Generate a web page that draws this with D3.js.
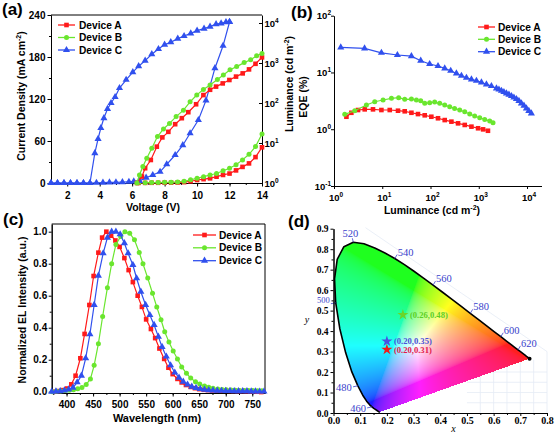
<!DOCTYPE html>
<html><head><meta charset="utf-8">
<script src="https://cdn.jsdelivr.net/npm/d3@7"></script>
<style>
body{margin:0;background:#fff}
#svg{display:block}
</style></head>
<body><svg id="svg" width="555" height="433"></svg>
<script>
// ================= DATA =================
const devices = ["Device A","Device B","Device C"];
// (a) J-V-L
const aVoltJ_A = [6.4,6.8,7.2,7.6,8.0,8.4,8.8,9.2,9.6,10.0,10.4,10.8,11.2,11.6,12.0,12.4,12.8,13.2,13.6,14.0];
const aCurJ_A  = [0.2,0.2,0.3,0.3,0.4,0.5,0.7,1.2,2.5,4.3,5.5,6.7,9,11.5,13.5,18,23,28,37,51];
const aVoltJ_B = [6.4,6.8,7.2,7.6,8.0,8.4,8.8,9.2,9.6,10.0,10.4,10.8,11.2,11.6,12.0,12.4,12.8,13.2,13.6,14.0];
const aCurJ_B  = [0.5,0.5,0.6,0.7,0.9,1.1,1.5,2.5,4.5,6.8,9,11.4,13.5,17.5,21,26,33,41,52,70];
const aVoltJ_C = [1,1.4,1.8,2.2,2.6,3.0,3.4,3.8,4.2,4.6,5.0,5.4,5.8,6.1,6.45,6.86,7.27,7.72,8.13,8.65,9.12,9.57,10.08,10.55,11.1,11.6,12.0];
const aCurJ_C  = [0,0,0,0,0,0,0,0.3,0.5,0.8,1,1.3,1.8,2.3,3,7.6,11.4,16,26.7,40,54,71,90,118,164,196,230];
const aVoltL_A = [6.3,6.6,6.8,7.15,7.52,7.86,8.23,8.65,9.06,9.46,9.94,10.39,10.8,11.17,11.58,11.99,12.4,12.81,13.2,13.6,14.0];
const aLum_A   = [1,1.45,2.34,3.76,8.1,13.8,19,29.5,41.7,58.9,93,158,214,257,309,376,457,550,692,955,1380];
const aVoltL_B = [6.29,6.45,6.66,6.9,7.21,7.56,7.93,8.3,8.71,9.16,9.57,9.98,10.39,10.8,11.25,11.62,12.03,12.44,12.9,13.3,13.67,14.0];
const aLum_B   = [1,1.58,2.57,4.17,7.41,14.5,22.4,30.9,45.7,66.1,107,158,219,282,389,501,676,813,1023,1202,1514,1738];
const aVoltL_C = [1,1.4,1.8,2.2,2.6,3.0,3.4,3.7,3.9,4.07,4.26,4.48,4.7,4.95,5.22,5.63,6.04,6.4,6.8,7.21,7.62,8.0,8.38,8.81,9.2,9.61,10.0,10.43,10.8,11.17,11.48,11.78,12.0];
const aLum_C   = [1,1,1,1,1,1,1,5.6,12.6,23.7,42,71,100,141,237,380,589,832,1148,1660,2239,2884,3311,4074,4732,5495,6457,7244,8128,9333,9772,10471,10715];
const aTicksX = [2,4,6,8,10,12,14];
const aTicksJ = [0,60,120,180,240];
const aTicksL = [1,10,100,1000,10000];
// (b) EQE-L
const bLum_A = [1.81,2.29,3.15,4.33,6.43,9.6,14.3,21.2,29.2,40.2,55,75.9,104,143,197,271,372,512,705,968,1230,1550];
const bEqe_A = [1.66,1.95,2.18,2.24,2.24,2.18,2.18,2.12,2.07,1.95,1.85,1.76,1.66,1.56,1.45,1.36,1.27,1.19,1.11,1.04,0.995,0.94];
const bLum_B = [1.67,2.69,4.69,6.98,10.4,15.5,21.9,29.2,40.2,51,62.7,75.9,96.2,122,155,197,250,316,403,512,650,824,1047,1330,1687,1974];
const bEqe_B = [1.83,2.12,2.67,3.05,3.27,3.5,3.59,3.36,3.4,3.27,3.18,2.86,2.93,3.01,2.86,2.67,2.49,2.33,2.18,2.03,1.85,1.71,1.59,1.49,1.39,1.30];
const bLum_C = [1.38,4.3,9.6,20.6,40.2,62.7,96,143,197,262,344,437,555,705,894,1135,1440,1828,2323,2620,2950,3320,3742,4220,4753,5350,6030,6800,7656,8650,9725,10900,12300];
const bEqe_C = [27.7,26.6,22.2,20.3,19.4,16.1,14.1,13,11.8,10.7,9.6,8.75,8.07,7.55,7.14,6.69,6.17,5.76,5.25,5.0,4.76,4.52,4.29,4.06,3.84,3.62,3.4,3.15,2.86,2.6,2.33,2.1,1.9];
const bTicksX = [1,10,100,1000,10000];
const bTicksY = [0.1,1,10,100];
// (c) EL spectra
const cWl_A  = [376,384,392,401,409,417,426,434,443,451,460,467,475,484,492,500,509,517,525,534,542,550,559,567,575,584,592,600,609,617,625,634,642,650,659,667,675,684,692,700,709,717,725,734,742,750,759,767];
const cInt_A = [0.0,0.004,0.01,0.02,0.046,0.1,0.209,0.361,0.542,0.723,0.869,0.963,1.0,0.975,0.945,0.905,0.835,0.76,0.685,0.6,0.53,0.452,0.392,0.335,0.27,0.205,0.15,0.11,0.08,0.058,0.042,0.03,0.022,0.016,0.012,0.01,0.008,0.007,0.006,0.006,0.005,0.005,0.004,0.004,0.003,0.002,0.0,-0.002];
const cWl_B  = [373,381,389,397,405,413,421,429,437,445,452,460,468,477,485,493,502,510,519,528,537,544,553,562,570,578,585,593,601,609,617,626,634,643,651,660,668,676,685,693,701,710,718,726,735,743,751,760,768];
const cInt_B = [0.0,0.003,0.005,0.007,0.009,0.012,0.018,0.026,0.045,0.08,0.165,0.30,0.47,0.65,0.80,0.92,0.97,1.0,0.99,0.95,0.87,0.80,0.71,0.615,0.53,0.45,0.375,0.31,0.255,0.205,0.155,0.115,0.085,0.063,0.048,0.036,0.028,0.022,0.017,0.014,0.012,0.01,0.009,0.008,0.008,0.007,0.007,0.006,0.006];
const cWl_C  = [372,380,388,396,404,412,420,428,436,444,452,460,469,477,485,493,501,509,516,525,532,540,549,557,565,573,580,588,596,604,612,620,628,636,644,652,660,668,676,684,692,700,708,716,724,732,740,748,756,764,772];
const cInt_C = [0.0,0.002,0.004,0.008,0.014,0.025,0.059,0.1,0.209,0.359,0.542,0.725,0.865,0.963,1.0,1.0,0.984,0.928,0.865,0.792,0.709,0.625,0.542,0.479,0.417,0.344,0.28,0.22,0.165,0.12,0.088,0.063,0.045,0.032,0.024,0.018,0.013,0.01,0.008,0.007,0.006,0.005,0.005,0.004,0.004,0.003,0.003,0.002,0.002,0.001,0.001];
const cTicksX = [400,450,500,550,600,650,700,750];
const cTicksY = [0,0.2,0.4,0.6,0.8,1.0];
// (d) CIE 1931 spectral locus
const locusWl = [380,400,410,420,430,440,450,455,460,465,470,475,480,485,490,495,500,505,510,515,520,525,530,535,540,545,550,555,560,565,570,575,580,585,590,595,600,605,610,615,620,625,630,635,640,645,650,660,680,700];
const locusX  = [0.1741,0.1733,0.1726,0.1714,0.1689,0.1644,0.1566,0.1510,0.1440,0.1355,0.1241,0.1096,0.0913,0.0687,0.0454,0.0235,0.0082,0.0039,0.0139,0.0389,0.0743,0.1142,0.1547,0.1929,0.2296,0.2658,0.3016,0.3373,0.3731,0.4087,0.4441,0.4788,0.5125,0.5448,0.5752,0.6029,0.6270,0.6482,0.6658,0.6801,0.6915,0.7006,0.7079,0.7140,0.7190,0.7230,0.7260,0.7300,0.7334,0.7347];
const locusY  = [0.0050,0.0048,0.0048,0.0051,0.0069,0.0109,0.0177,0.0227,0.0297,0.0399,0.0578,0.0868,0.1327,0.2007,0.2950,0.4127,0.5384,0.6548,0.7502,0.8120,0.8338,0.8262,0.8059,0.7816,0.7543,0.7243,0.6923,0.6589,0.6245,0.5896,0.5547,0.5202,0.4866,0.4544,0.4242,0.3965,0.3725,0.3514,0.3340,0.3197,0.3083,0.2993,0.2920,0.2859,0.2809,0.2770,0.2740,0.2700,0.2666,0.2653];
const locusLabels = [460,480,500,520,540,560,580,600,620];
const cieNames  = ["(0.26,0.48)","(0.20,0.35)","(0.20,0.31)"];
const cieX = [0.26,0.20,0.20];
const cieY = [0.48,0.35,0.31];
const dTicks = [0,0.1,0.2,0.3,0.4,0.5,0.6,0.7,0.8,0.9];

// ================= STYLE =================
const FONT = "'Liberation Sans', Arial, sans-serif";
const SERIF = "'Liberation Serif','Times New Roman',serif";
const COLORS = ["#ff1a1a","#6ae62e","#3050ee"];
const MARKS = ["square","circle","triangle"];
const svg = d3.select("#svg");
svg.append("rect").attr("width",555).attr("height",433).attr("fill","#fff");

function addMarker(sel, type, color){
  if(type==="square") sel.append("rect").attr("x",-2.3).attr("y",-2.3).attr("width",4.6).attr("height",4.6).attr("fill",color);
  else if(type==="circle") sel.append("circle").attr("r",2.5).attr("fill",color);
  else sel.append("path").attr("d",d3.symbol(d3.symbolTriangle,22)()).attr("fill",color);
}
function series(g, xs, ys, sx, sy, color, type){
  const pts = xs.map((x,i)=>[sx(x), sy(ys[i])]);
  g.append("path").attr("d",d3.line()(pts)).attr("fill","none").attr("stroke",color).attr("stroke-width",1.2);
  g.selectAll(null).data(pts).join("g").attr("transform",p=>`translate(${p[0]},${p[1]})`).each(function(){addMarker(d3.select(this),type,color);});
}
function styleAxis(g, size){
  g.attr("font-family",FONT).attr("font-size",size||10).attr("font-weight","bold");
  g.select(".domain").attr("stroke","#000").attr("stroke-width",1);
  g.selectAll(".tick line").attr("stroke","#000");
  g.selectAll("text").attr("fill","#000");
}
function legend(g, x0, x1, tx, ys){
  devices.forEach((d,i)=>{
    g.append("line").attr("x1",x0).attr("x2",x1).attr("y1",ys[i]).attr("y2",ys[i]).attr("stroke",COLORS[i]).attr("stroke-width",1.3);
    addMarker(g.append("g").attr("transform",`translate(${(x0+x1)/2},${ys[i]})`),MARKS[i],COLORS[i]);
    g.append("text").attr("x",tx).attr("y",ys[i]+3.6).text(d).attr("font-family",FONT).attr("font-weight","bold").attr("font-size",10.2).attr("fill","#000");
  });
}
function powLabel(sel, x, y, exp, anchor){
  const t = sel.append("text").attr("x",x).attr("y",y).attr("text-anchor",anchor).attr("font-family",FONT).attr("font-weight","bold").attr("font-size",9.5).attr("fill","#000");
  t.append("tspan").text("10");
  t.append("tspan").attr("dy",-4).attr("font-size",6.5).text(exp);
  return t;
}
function panelTag(x,y,t){
  svg.append("text").attr("x",x).attr("y",y).text(t).attr("font-family",FONT).attr("font-weight","bold").attr("font-size",17).attr("fill","#000");
}

// ================= PANEL A =================
{
  const xA = d3.scaleLinear([1,14],[51,262]);
  const yJ = d3.scaleLinear([0,240],[183,15]);
  const yL = d3.scaleLog([1,Math.pow(10,4.2)],[183,15]);
  const g = svg.append("g");
  g.append("line").attr("x1",51).attr("x2",262).attr("y1",15).attr("y2",15).attr("stroke","#000");
  g.append("g").attr("transform","translate(0,183)").call(d3.axisBottom(xA).tickValues(d3.range(1,15)).tickFormat("").tickSize(2).tickSizeOuter(0)).call(styleAxis);
  g.append("g").attr("transform","translate(0,183)").call(d3.axisBottom(xA).tickValues(aTicksX).tickSize(3.5).tickPadding(5).tickSizeOuter(0)).call(styleAxis);
  g.append("g").attr("transform","translate(51,0)").call(d3.axisLeft(yJ).tickValues(d3.range(30,240,60)).tickFormat("").tickSize(2).tickSizeOuter(0)).call(styleAxis);
  g.append("g").attr("transform","translate(51,0)").call(d3.axisLeft(yJ).tickValues(aTicksJ).tickSize(3.5).tickPadding(2).tickSizeOuter(0)).call(styleAxis);
  g.append("g").attr("transform","translate(262,0)").call(d3.axisRight(yL).tickValues(aTicksL).tickFormat("").tickSize(-3).tickSizeOuter(0)).call(styleAxis);
  aTicksL.forEach((v,i)=>powLabel(g, 264.5, yL(v)+3.5, String(i), "start"));
  series(g, aVoltJ_A, aCurJ_A, xA, yJ, COLORS[0], MARKS[0]);
  series(g, aVoltJ_B, aCurJ_B, xA, yJ, COLORS[1], MARKS[1]);
  series(g, aVoltJ_C, aCurJ_C, xA, yJ, COLORS[2], MARKS[2]);
  series(g, aVoltL_A, aLum_A, xA, yL, COLORS[0], MARKS[0]);
  series(g, aVoltL_B, aLum_B, xA, yL, COLORS[1], MARKS[1]);
  series(g, aVoltL_C, aLum_C, xA, yL, COLORS[2], MARKS[2]);
  legend(g, 58, 75, 79, [25,37.5,50]);
  g.append("text").attr("x",153).attr("y",210.5).attr("text-anchor","middle").text("Voltage (V)").attr("font-family",FONT).attr("font-weight","bold").attr("font-size",10.5);
  const tl = g.append("text").attr("transform","translate(25,96) rotate(-90)").attr("text-anchor","middle").attr("font-family",FONT).attr("font-weight","bold").attr("font-size",10.5);
  tl.append("tspan").text("Current Density (mA cm");
  tl.append("tspan").attr("dy",-4).attr("font-size",7).text("-2");
  tl.append("tspan").attr("dy",4).text(")");
  const tr = g.append("text").attr("transform","translate(293,84) rotate(-90)").attr("text-anchor","middle").attr("font-family",FONT).attr("font-weight","bold").attr("font-size",10.5);
  tr.append("tspan").text("Luminance (cd m");
  tr.append("tspan").attr("dy",-4).attr("font-size",7).text("-2");
  tr.append("tspan").attr("dy",4).text(")");
  panelTag(2,15,"(a)");
}

// ================= PANEL B =================
{
  const xB = d3.scaleLog([1,Math.pow(10,4.3)],[334,541.5]);
  const yB = d3.scaleLog([0.1,100],[186,15.7]);
  const g = svg.append("g");
  g.append("g").attr("transform","translate(0,186)").call(d3.axisBottom(xB).tickValues(bTicksX).tickFormat("").tickSize(3).tickSizeOuter(0)).call(styleAxis);
  g.append("g").attr("transform","translate(334,0)").call(d3.axisLeft(yB).tickValues(bTicksY).tickFormat("").tickSize(3).tickSizeOuter(0)).call(styleAxis);
  bTicksX.forEach((v,i)=>powLabel(g, xB(v)+2, 200.5, String(i), "middle"));
  bTicksY.forEach((v,i)=>powLabel(g, 331, yB(v)+3.5, String(i-1), "end"));
  series(g, bLum_A, bEqe_A, xB, yB, COLORS[0], MARKS[0]);
  series(g, bLum_B, bEqe_B, xB, yB, COLORS[1], MARKS[1]);
  series(g, bLum_C, bEqe_C, xB, yB, COLORS[2], MARKS[2]);
  legend(g, 478, 495, 498, [27,39.3,51.7]);
  g.append("text").attr("transform","translate(307,97) rotate(-90)").attr("text-anchor","middle").text("EQE (%)").attr("font-family",FONT).attr("font-weight","bold").attr("font-size",10.5);
  const tb = g.append("text").attr("x",432).attr("y",214).attr("text-anchor","middle").attr("font-family",FONT).attr("font-weight","bold").attr("font-size",10.5);
  tb.append("tspan").text("Luminance (cd m");
  tb.append("tspan").attr("dy",-4).attr("font-size",7).text("-2");
  tb.append("tspan").attr("dy",4).text(")");
  panelTag(291,18,"(b)");
}

// ================= PANEL C =================
{
  const xC = d3.scaleLinear([372,774],[51.7,265]);
  const yC = d3.scaleLinear([-0.008,1.048],[393,224]);
  const g = svg.append("g");
  g.append("line").attr("x1",51.7).attr("x2",265).attr("y1",224).attr("y2",224).attr("stroke","#000");
  g.append("line").attr("x1",265).attr("x2",265).attr("y1",224).attr("y2",393).attr("stroke","#000");
  g.append("g").attr("transform","translate(0,393)").call(d3.axisBottom(xC).tickValues(d3.range(375,775,25)).tickFormat("").tickSize(2).tickSizeOuter(0)).call(styleAxis);
  g.append("g").attr("transform","translate(0,393)").call(d3.axisBottom(xC).tickValues(cTicksX).tickSize(3.5).tickPadding(4.5).tickSizeOuter(0)).call(styleAxis);
  g.append("g").attr("transform","translate(51.7,0)").call(d3.axisLeft(yC).tickValues(d3.range(0.1,1.01,0.2)).tickFormat("").tickSize(2).tickSizeOuter(0)).call(styleAxis);
  g.append("g").attr("transform","translate(51.7,0)").call(d3.axisLeft(yC).tickValues(cTicksY).tickFormat(d3.format(".1f")).tickSize(3).tickPadding(1.5).tickSizeOuter(0)).call(styleAxis);
  series(g, cWl_A, cInt_A, xC, yC, COLORS[0], MARKS[0]);
  series(g, cWl_B, cInt_B, xC, yC, COLORS[1], MARKS[1]);
  series(g, cWl_C, cInt_C, xC, yC, COLORS[2], MARKS[2]);
  legend(g, 193, 216, 219, [235,247.8,260.7]);
  g.append("text").attr("x",157).attr("y",422).attr("text-anchor","middle").text("Wavelength (nm)").attr("font-family",FONT).attr("font-weight","bold").attr("font-size",11);
  g.append("text").attr("transform","translate(25.5,310) rotate(-90)").attr("text-anchor","middle").text("Normalized EL Intensity (a.u.)").attr("font-family",FONT).attr("font-weight","bold").attr("font-size",10.5);
  panelTag(3,225,"(c)");
}

// ================= PANEL D =================
{
  const xD = d3.scaleLinear([0,0.8],[333.5,547]);
  const yD = d3.scaleLinear([0,0.9],[413,228.7]);
  const g = svg.append("g");
  // faint background frame / grid (under the colour fill)
  const faint = g.append("g").attr("stroke","#e4ebf5").attr("stroke-width",0.8).attr("fill","none");
  faint.append("path").attr("d",d3.line()([[xD(0.12),yD(0.905)],[xD(0.8),yD(0.3)],[xD(0.8),yD(0)]]));
  [0.55,0.6,0.65,0.7,0.75].forEach(v=>faint.append("line").attr("x1",xD(v)).attr("x2",xD(v)).attr("y1",yD(0)).attr("y2",yD(0.26)));
  [0.05,0.1,0.15,0.2].forEach(v=>faint.append("line").attr("x1",xD(0.5)).attr("x2",xD(0.8)).attr("y1",yD(v)).attr("y2",yD(v)));

  // colour fill rendered off-screen, placed as an SVG image
  const poly = locusX.map((x,i)=>[xD(x), yD(locusY[i])]);
  const bx0 = Math.floor(d3.min(poly,p=>p[0])), bx1 = Math.ceil(d3.max(poly,p=>p[0]));
  const by0 = Math.floor(d3.min(poly,p=>p[1])), by1 = Math.ceil(d3.max(poly,p=>p[1]));
  const cv = document.createElement("canvas");
  cv.width = bx1-bx0; cv.height = by1-by0;
  const ctx = cv.getContext("2d");
  const img = ctx.createImageData(cv.width, cv.height);
  const gam = v => v<=0.0031308 ? 12.92*v : 1.055*Math.pow(v,1/2.4)-0.055;
  for(let py=by0; py<by1; py++){
    for(let px=bx0; px<bx1; px++){
      if(!d3.polygonContains(poly,[px+0.5,py+0.5])) continue;
      const cx = xD.invert(px+0.5), cy = Math.max(yD.invert(py+0.5),0.003);
      const X = cx/cy, Y = 1, Z = (1-cx-cy)/cy;
      let r = Math.max(0, 3.2406*X-1.5372*Y-0.4986*Z);
      let gg = Math.max(0,-0.9689*X+1.8758*Y+0.0415*Z);
      let b = Math.max(0, 0.0557*X-0.2040*Y+1.0570*Z);
      const m = Math.max(r,gg,b) || 1;
      const k = 4*((py-by0)*cv.width+(px-bx0));
      const lift = v => 255*(0.88*gam(v/m)+0.12);
      img.data[k] = lift(r); img.data[k+1] = lift(gg); img.data[k+2] = lift(b); img.data[k+3] = 255;
    }
  }
  ctx.putImageData(img, 0, 0);
  g.append("image").attr("x",bx0).attr("y",by0).attr("width",cv.width).attr("height",cv.height).attr("href",cv.toDataURL());

  // locus outline
  g.append("path").attr("d",d3.line()(poly)).attr("fill","none").attr("stroke","#000").attr("stroke-width",1.6).attr("stroke-linejoin","round");
  g.append("circle").attr("cx",poly[poly.length-1][0]).attr("cy",poly[poly.length-1][1]).attr("r",2).attr("fill","#000");

  // wavelength labels
  locusLabels.forEach(w=>{
    const i = locusWl.indexOf(w);
    const px = xD(locusX[i]), py = yD(locusY[i]);
    let dx, dy, anchor, fs = 10.5;
    if(w===520){dx=-3;dy=-5;anchor="middle";}
    else if(w===500){dx=-6;dy=0.3;anchor="end";fs=8.5;}
    else if(w<520){dx=-6;dy=5;anchor="end";}
    else {dx=3;dy=-3;anchor="start";}
    g.append("line").attr("x1",px).attr("y1",py).attr("x2",px+(w===520?-1:dx*0.8)).attr("y2",py+(w===520?-4:(w<520?1:-4))).attr("stroke","#3a40c8").attr("stroke-width",0.8);
    g.append("text").attr("x",px+dx).attr("y",py+dy).attr("text-anchor",anchor).text(w)
      .attr("font-family",SERIF).attr("font-size",fs).attr("fill","#3a3fcc");
  });

  // axes
  g.append("g").attr("transform","translate(0,413)").call(d3.axisBottom(xD).tickValues(d3.range(0.05,0.8,0.1)).tickFormat("").tickSize(2).tickSizeOuter(0)).call(styleAxis);
  const ax = g.append("g").attr("transform","translate(0,413)").call(d3.axisBottom(xD).tickValues(dTicks.slice(0,9)).tickFormat(d3.format(".1f")).tickSize(3).tickPadding(0.5).tickSizeOuter(0)).call(styleAxis);
  ax.attr("font-family",SERIF).attr("font-size",10);
  g.append("g").attr("transform","translate(333.5,0)").call(d3.axisLeft(yD).tickValues(d3.range(0.05,0.9,0.1)).tickFormat("").tickSize(2).tickSizeOuter(0)).call(styleAxis);
  const ay = g.append("g").attr("transform","translate(333.5,0)").call(d3.axisLeft(yD).tickValues(dTicks).tickFormat(d3.format(".1f")).tickSize(3).tickPadding(2).tickSizeOuter(0)).call(styleAxis);
  ay.attr("font-family",SERIF).attr("font-size",9.5);
  g.append("text").attr("x",453.5).attr("y",431.5).attr("text-anchor","middle").text("x").attr("font-family",SERIF).attr("font-style","italic").attr("font-size",10);
  g.append("text").attr("x",307).attr("y",323).attr("text-anchor","middle").text("y").attr("font-family",SERIF).attr("font-style","italic").attr("font-size",10);

  // device points
  const starCols = ["#6ad62a","#4a4fe0","#f01a1a"];
  const txtCols  = ["#5ccf25","#4a4fd8","#e3174a"];
  const nudge = [0,-0.8,0.8];
  cieNames.forEach((n,i)=>{
    g.append("path").attr("transform",`translate(${xD(cieX[i])},${yD(cieY[i])})`).attr("d",d3.symbol(d3.symbolStar,38)()).attr("fill",starCols[i]);
    g.append("text").attr("x",xD(cieX[i])+7).attr("y",yD(cieY[i])+3+nudge[i]).text(n)
      .attr("font-family",SERIF).attr("font-weight","bold").attr("font-size",8.6).attr("fill",txtCols[i]);
  });
  panelTag(288,227,"(d)");
}
</script></body></html>
